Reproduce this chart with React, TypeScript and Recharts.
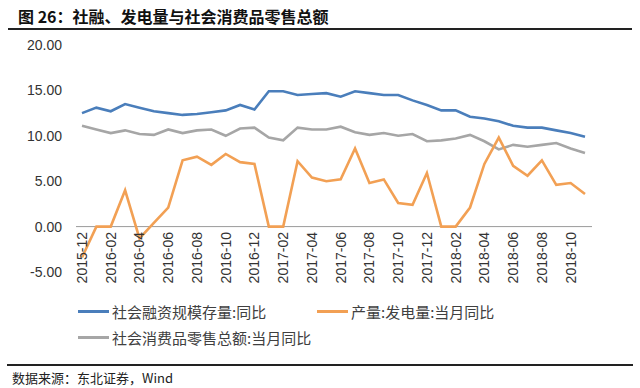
import { LineChart, Line, XAxis, YAxis, ReferenceLine } from 'recharts';

const months = [
  '2015-12', '2016-01', '2016-02', '2016-03', '2016-04', '2016-05', '2016-06', '2016-07', '2016-08',
  '2016-09', '2016-10', '2016-11', '2016-12', '2017-01', '2017-02', '2017-03', '2017-04', '2017-05',
  '2017-06', '2017-07', '2017-08', '2017-09', '2017-10', '2017-11', '2017-12', '2018-01', '2018-02',
  '2018-03', '2018-04', '2018-05', '2018-06', '2018-07', '2018-08', '2018-09', '2018-10', '2018-11',
];

// 社会融资规模存量:同比
const socialFinancing = [
  12.5, 13.1, 12.7, 13.5, 13.1, 12.7, 12.5, 12.3, 12.4,
  12.6, 12.8, 13.4, 12.9, 14.9, 14.9, 14.5, 14.6, 14.7,
  14.3, 14.9, 14.7, 14.5, 14.5, 13.9, 13.4, 12.8, 12.8,
  12.1, 11.9, 11.6, 11.1, 10.9, 10.9, 10.6, 10.3, 9.9,
];

// 产量:发电量:当月同比
const powerOutput = [
  -3.4, 0, 0, 4.0, -1.3, 0.4, 2.1, 7.3, 7.7,
  6.8, 8.0, 7.1, 6.9, 0, 0, 7.2, 5.4, 5.0,
  5.2, 8.6, 4.8, 5.2, 2.6, 2.4, 5.9, 0, 0,
  2.1, 6.9, 9.8, 6.7, 5.6, 7.3, 4.6, 4.8, 3.6,
];

// 社会消费品零售总额:当月同比
const retailSales = [
  11.1, 10.7, 10.3, 10.6, 10.2, 10.1, 10.7, 10.3, 10.6,
  10.7, 10.0, 10.8, 10.9, 9.8, 9.5, 10.9, 10.7, 10.7,
  11.0, 10.4, 10.1, 10.3, 10.0, 10.2, 9.4, 9.5, 9.7,
  10.1, 9.4, 8.5, 9.0, 8.8, 9.0, 9.2, 8.6, 8.1,
];

const yTicks = [-5, 0, 5, 10, 15, 20];

const series = [
  { key: 'sf', name: '社会融资规模存量:同比', color: '#4A7EBB' },
  { key: 'power', name: '产量:发电量:当月同比', color: '#F2A054' },
  { key: 'retail', name: '社会消费品零售总额:当月同比', color: '#A6A6A6' },
];

const data = months.map((m, i) => ({
  month: m,
  sf: socialFinancing[i],
  power: powerOutput[i],
  retail: retailSales[i],
}));

const CJK = '"Noto Sans CJK SC", "Noto Sans", sans-serif';
const LATIN = '"Liberation Sans", Arial, sans-serif';

// x labels sit just under the zero line, not under the plot bottom
function MonthTick({ x, y, payload }: any) {
  return (
    <g transform={`translate(${x},${y})`}>
      <text
        transform="rotate(-90)"
        x={48}
        dy="0.35em"
        textAnchor="end"
        fontSize={14}
        fontFamily={LATIN}
        fill="#333"
      >
        {payload.value}
      </text>
    </g>
  );
}

function LegendItem({ name, color, left, top }: { name: string; color: string; left: number; top: number }) {
  return (
    <div style={{ position: 'absolute', left, top, display: 'flex', alignItems: 'center', height: 20 }}>
      <div style={{ width: 31, height: 3, background: color, marginRight: 3 }} />
      <span style={{ fontSize: 15, color: '#404040', fontFamily: CJK, whiteSpace: 'nowrap' }}>{name}</span>
    </div>
  );
}

export default function App() {
  return (
    <div style={{ position: 'absolute', left: 0, top: 0, width: 640, height: 388, background: '#fff', overflow: 'hidden' }}>
      <div
        style={{
          position: 'absolute',
          left: 18,
          top: 5,
          fontSize: 16,
          fontWeight: 700,
          fontFamily: CJK,
          color: '#111',
          whiteSpace: 'nowrap',
          lineHeight: '22px',
        }}
      >
        图 26：社融、发电量与社会消费品零售总额
      </div>
      <div style={{ position: 'absolute', left: 8, top: 28, width: 624, height: 2, background: '#222' }} />

      <div style={{ position: 'absolute', left: 0, top: 0 }}>
        <LineChart width={640} height={332} data={data} margin={{ top: 45, right: 48, left: 16, bottom: 0 }}>
          <XAxis
            dataKey="month"
            interval={1}
            height={60}
            axisLine={false}
            tickLine={false}
            padding={{ left: 6, right: 7 }}
            tick={<MonthTick />}
          />
          <YAxis
            type="number"
            domain={[-5, 20]}
            ticks={yTicks}
            width={60}
            axisLine={false}
            tickLine={false}
            tickMargin={8}
            tickFormatter={(v: number) => v.toFixed(2)}
            tick={{ fontSize: 14, fontFamily: LATIN, fill: '#333' }}
          />
          <ReferenceLine y={0} stroke="#9a9a9a" strokeWidth={1} />
          <Line type="linear" dataKey="sf" stroke={series[0].color} strokeWidth={2.6} dot={false} isAnimationActive={false} />
          <Line type="linear" dataKey="retail" stroke={series[2].color} strokeWidth={2.6} dot={false} isAnimationActive={false} />
          <Line type="linear" dataKey="power" stroke={series[1].color} strokeWidth={2.6} dot={false} isAnimationActive={false} />
        </LineChart>
      </div>

      <LegendItem name={series[0].name} color={series[0].color} left={78} top={301} />
      <LegendItem name={series[1].name} color={series[1].color} left={317} top={301} />
      <LegendItem name={series[2].name} color={series[2].color} left={78} top={327} />

      <div style={{ position: 'absolute', left: 7, top: 364, width: 626, height: 1.5, background: '#222' }} />
      <div
        style={{
          position: 'absolute',
          left: 12,
          top: 369,
          fontSize: 13,
          fontFamily: CJK,
          color: '#222',
          whiteSpace: 'nowrap',
          lineHeight: '18px',
        }}
      >
        数据来源：东北证券，Wind
      </div>
    </div>
  );
}
